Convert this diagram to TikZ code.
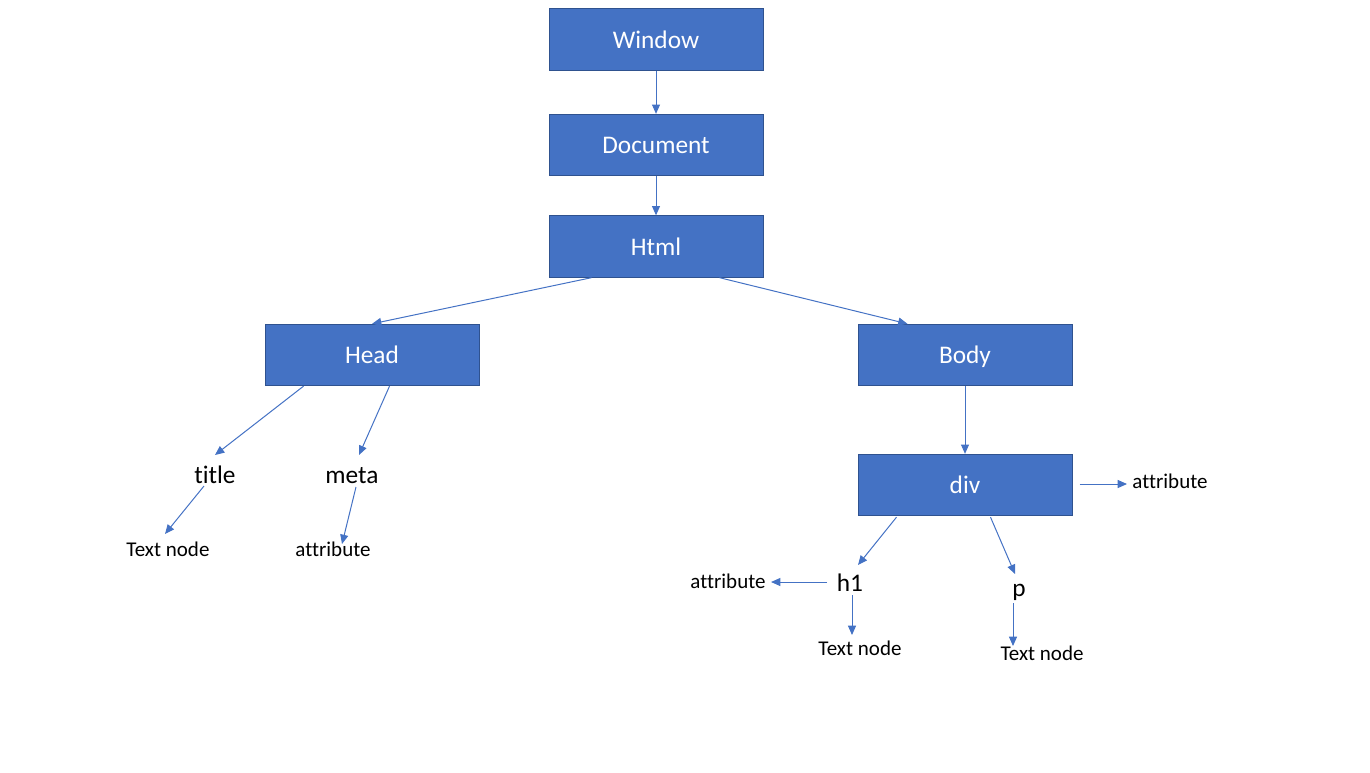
\documentclass[tikz,border=0pt]{standalone}
\usepackage{fontspec}
\setmainfont{Carlito}[RawFeature={-liga;-calt}]
\usetikzlibrary{arrows.meta,calc}
\definecolor{boxfill}{HTML}{4472C4}
\definecolor{boxline}{HTML}{2F528F}
\definecolor{arrowcol}{HTML}{4472C4}
\tikzset{
  box/.style={draw=boxline, line width=0.75pt, fill=boxfill, text=white,
    minimum width=160.5pt, minimum height=46pt, inner sep=0pt,
    text height=14pt, text depth=1.2pt,
    font=\fontsize{19pt}{22pt}\selectfont},
  biglabel/.style={anchor=base, inner sep=0pt, text=black,
    font=\fontsize{19pt}{22pt}\selectfont},
  smalllabel/.style={anchor=base, inner sep=0pt, text=black,
    font=\fontsize{15.75pt}{18pt}\selectfont},
  conn/.style={draw=arrowcol, line width=0.75pt,
    -{Triangle[length=7pt,width=6pt]}}
}
\begin{document}
\begin{tikzpicture}[x=0.75pt,y=-0.75pt]
\useasboundingbox (0,0) rectangle (1370,772);
% boxes
\node[box] (win)  at (656,39.5) {Window};
\node[box] (doc)  at (656,145) {Document};
\node[box] (html) at (656,246.5) {Html};
\node[box] (head) at (372,355) {Head};
\node[box] (body) at (965,355) {Body};
\node[box] (div)  at (965,485) {div};
% labels
\node[biglabel] (title) at (215,483) {title};
\node[biglabel] (meta)  at (352,483) {meta};
\node[smalllabel] (tn1)   at (168,556) {Text node};
\node[smalllabel] (attr1) at (333,556) {attribute};
\node[biglabel] (h1) at (850,591) {h1};
\node[biglabel] (p)  at (1019,596) {p};
\node[smalllabel] (attr2) at (728,588) {attribute};
\node[smalllabel] (tn2)   at (860,655) {Text node};
\node[smalllabel] (tn3)   at (1042,660) {Text node};
\node[smalllabel] (attr3) at (1170,488) {attribute};
% connectors
\draw[conn] (win.south) -- (doc.north);
\draw[conn] (doc.south) -- (html.north);
\draw[conn] ($(html.south west)+(43,0)$) -- (head.north);
\draw[conn] ($(html.south west)+(171,0)$) -- ($(body.north west)+(50,0)$);
\draw[conn] ($(head.south west)+(39,0)$) -- ($(title.base)+(0,-28)$);
\draw[conn] ($(head.south west)+(125,0)$) -- ($(meta.base)+(7,-28)$);
\draw[conn] ($(title.base)+(-11,3)$) -- ($(tn1.base)+(-3,-22)$);
\draw[conn] ($(meta.base)+(4,4)$) -- ($(attr1.base)+(9,-12)$);
\draw[conn] (body.south) -- (div.north);
\draw[conn] ($(div.east)+(7,-1)$) -- ($(attr3.base)+(-43,-4)$);
\draw[conn] ($(div.south west)+(39,1)$) -- ($(h1.base)+(8,-26)$);
\draw[conn] ($(div.south west)+(133,1)$) -- ($(p.base)+(-4,-22)$);
\draw[conn] ($(h1.base)+(-23,-9)$) -- ($(attr2.base)+(43,-6)$);
\draw[conn] ($(h1.base)+(2,4)$) -- ($(tn2.base)+(-8,-20)$);
\draw[conn] ($(p.base)+(-6,7)$) -- ($(tn3.base)+(-29,-14)$);
\end{tikzpicture}
\end{document}
